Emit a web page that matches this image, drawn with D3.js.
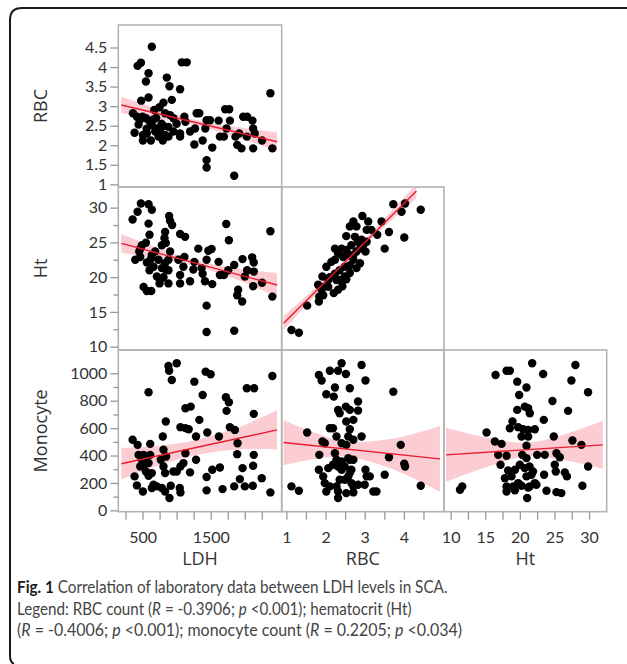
<!DOCTYPE html>
<html>
<head>
<meta charset="utf-8">
<script src="https://cdn.jsdelivr.net/npm/d3@7"></script>
<style>
body { margin: 0; background: #fff; }
svg { display: block; }
</style>
</head>
<body>
<div id="chart"></div>
<script>
// points, [x, y] per panel
var ldhRbc = [[636,4.52],[427,4.03],[476,4.11],[588,3.84],[549,3.63],[588,3.22],[480,3.14],[856,3.73],[895,3.51],[929,3.16],
    [807,3.09],[749,2.97],[671,2.90],[1051,3.43],[1075,4.12],[1148,4.12],[359,2.82],[417,2.73],[441,2.53],[383,2.32],
    [500,2.73],[549,2.69],[505,2.26],[563,2.30],[505,2.12],[622,2.12],[636,2.52],[661,2.66],[710,2.43],[758,2.39],
    [807,2.49],[797,2.12],[831,2.26],[880,2.47],[880,2.22],[953,2.69],[953,2.35],[1051,2.30],[1051,2.22],[1114,2.73],
    [1129,2.60],[1197,2.35],[1260,2.02],[1270,2.43],[1294,2.82],[1333,2.82],[1382,2.12],[1440,2.64],[1489,2.64],[1421,2.43],
    [1440,1.62],[1440,1.43],[1523,1.94],[1616,2.63],[1635,2.22],[1694,2.22],[1713,2.92],[1772,2.92],[1733,2.43],[1782,2.63],
    [1845,1.22],[1864,2.22],[1889,2.01],[1918,2.30],[1952,1.92],[1977,2.73],[2035,2.73],[2030,2.22],[2113,2.63],[2123,2.43],
    [2147,2.30],[2123,1.92],[2254,2.12],[2376,3.33],[2405,1.92],[831,2.82],[904,2.77],[685,2.35],[734,2.22],[600,2.62],
    [700,2.70],[780,2.55],[1000,2.55],[460,2.65],[560,2.42]];
var ldhHt = [[354,28.3],[427,29.4],[476,30.6],[588,30.5],[636,29.7],[588,27.7],[602,26.1],[549,24.96],[490,24.6],[466,24.1],
    [451,23.7],[393,22.5],[466,22.9],[563,22.1],[622,22.6],[636,23.2],[685,23.7],[602,21.0],[515,18.6],[563,18.0],
    [627,18.0],[734,22.5],[749,19.1],[807,19.98],[783,21.3],[831,22.0],[880,22.5],[880,21.0],[880,19.1],[831,26.5],
    [822,25.6],[890,28.8],[904,28.1],[934,27.5],[783,24.6],[841,24.9],[904,23.7],[1051,26.2],[1124,25.8],[1051,19.1],
    [1051,20.3],[1026,22.5],[1099,21.5],[1114,22.9],[1197,19.4],[1245,21.1],[1260,22.2],[1318,24.1],[1367,21.3],[1382,20.5],
    [1416,19.4],[1440,15.9],[1440,12.1],[1465,23.8],[1513,24.05],[1440,22.5],[1523,19.0],[1616,22.2],[1635,20.3],[1694,20.3],
    [1757,21.0],[1728,27.65],[1767,25.3],[1845,21.75],[1845,12.3],[1889,17.4],[1903,18.2],[1962,16.5],[1967,22.6],[2001,20.1],
    [2035,21.0],[2108,22.85],[2132,22.1],[2132,20.8],[2123,18.7],[2254,19.2],[2376,26.6],[2405,17.2],[710,20.1],[758,19.6],
    [661,21.5],[841,21.1]];
var ldhMono = [[354,515],[427,478],[612,485],[383,248],[417,182],[505,138],[588,862],[441,405],[515,405],[563,393],
    [612,405],[466,320],[524,333],[588,345],[490,369],[549,284],[588,252],[636,272],[661,187],[710,175],
    [636,163],[797,539],[841,648],[807,442],[846,393],[807,320],[768,369],[831,272],[783,163],[831,138],
    [895,90],[914,180],[880,1053],[1002,1073],[890,1019],[929,951],[953,284],[1002,284],[1046,163],[1056,131],
    [1056,320],[1100,345],[1129,417],[1056,607],[1129,745],[1207,757],[1129,600],[1177,592],[1197,277],[1260,939],
    [1285,539],[1333,660],[1285,369],[1382,842],[1426,1012],[1499,993],[1450,568],[1440,243],[1440,146],[1523,296],
    [1621,539],[1635,313],[1674,155],[1723,825],[1767,789],[1733,726],[1782,607],[1855,587],[1845,175],[1894,490],
    [1889,410],[1928,228],[1967,308],[2001,175],[2030,891],[2137,891],[2132,704],[2123,325],[2118,180],[2132,405],
    [2249,235],[2376,131],[2405,980]];
var rbcHt = [[1.13,12.4],[1.32,12.0],[1.53,15.9],[1.83,16.5],[1.84,17.2],[1.94,17.4],[1.81,18.9],[1.92,20.1],[1.94,18.6],[2.07,19.6],
    [2.21,17.7],[2.32,18.2],[2.53,19.7],[2.02,21.5],[2.15,22.2],[2.24,22.5],[2.36,21.0],[2.49,21.5],[2.62,21.7],[2.71,22.5],
    [2.41,24.1],[2.53,23.9],[2.66,24.6],[2.71,23.2],[2.79,23.7],[2.88,24.1],[2.96,24.6],[3.05,25.1],[3.02,23.7],[2.53,25.9],
    [2.62,27.3],[2.71,28.0],[2.79,27.3],[2.94,28.8],[3.09,28.0],[3.05,26.8],[3.17,26.8],[2.75,25.8],[2.83,25.1],[2.92,25.4],
    [2.24,20.5],[2.11,20.0],[2.28,19.6],[2.36,19.6],[2.49,20.1],[2.62,20.6],[2.43,18.7],[3.32,26.1],[3.43,28.0],[3.51,24.1],
    [3.62,26.5],[3.73,30.5],[3.94,29.4],[4.03,30.6],[4.01,25.7],[4.43,29.7],[2.79,21.3],[2.88,22.0],[2.24,24.1],[2.32,23.4],
    [2.45,22.9],[2.62,23.2],[2.07,18.6],[1.90,18.2]];
var rbcMono = [[1.13,175],[1.32,143],[1.53,568],[1.83,988],[1.90,947],[2.02,847],[2.21,830],[2.24,896],[2.11,1019],[2.32,1019],
    [2.41,1073],[2.52,995],[2.62,891],[2.92,1061],[3.02,947],[2.32,733],[2.36,709],[2.52,757],[2.62,733],[2.83,794],
    [2.83,728],[2.71,660],[2.11,599],[2.19,599],[2.28,539],[2.53,648],[2.62,592],[2.58,539],[1.92,502],[1.98,490],
    [2.24,417],[2.41,490],[2.53,478],[2.71,515],[2.92,539],[1.84,405],[2.28,369],[2.41,357],[2.58,381],[2.62,369],
    [2.71,369],[1.83,296],[1.94,248],[2.07,308],[2.19,333],[2.32,320],[2.41,296],[2.49,320],[2.66,296],[1.98,199],
    [2.11,175],[2.28,175],[2.36,223],[2.49,223],[2.58,248],[2.62,272],[2.66,199],[2.71,175],[2.02,138],[2.32,138],
    [2.32,90],[2.53,126],[2.71,131],[2.83,187],[3.05,248],[3.02,296],[3.13,248],[3.00,187],[3.22,138],[3.30,138],
    [3.51,260],[3.62,388],[3.73,866],[3.92,478],[4.01,340],[4.03,320],[4.43,180]];
var htMono = [[11.35,150],[11.68,175],[15.19,568],[16.49,988],[18.08,1019],[18.56,1019],[19.62,939],[20.96,896],[19.9,842],[21.78,1073],
    [23.37,995],[28.03,1061],[27.45,947],[29.86,862],[24.71,798],[26.97,726],[19.62,733],[20.72,757],[21.44,709],[21.2,745],
    [23.46,660],[18.94,648],[18.56,599],[19.76,607],[20.48,592],[21.2,587],[22.16,592],[20.24,539],[21.2,539],[24.9,539],
    [27.6,510],[28.9,478],[16.39,502],[17.36,485],[16.87,405],[18.08,398],[20.96,471],[20.34,405],[20.96,381],[22.5,405],
    [23.6,405],[25.29,417],[25.77,388],[17.21,333],[18.3,291],[19.3,296],[20.0,333],[20.7,308],[21.4,320],[21.9,284],
    [25.05,333],[25.19,284],[26.5,277],[26.8,248],[29.86,320],[17.84,235],[18.8,248],[19.76,199],[20.96,248],[21.68,260],
    [22.16,199],[23.5,260],[18.08,175],[19.04,175],[20.24,180],[21.44,175],[22.4,187],[18.08,138],[19.28,146],[21.2,167],
    [23.85,143],[21.06,90],[25.29,133],[26.0,126],[29.04,180]];

// fitted lines (two ends) and confidence bands [x, lo, hi]
var lineLdhRbc = [[188,3.03],[2474,2.09]];
var lineLdhHt = [[188,24.87],[2474,18.87]];
var lineLdhMono = [[188,340],[2474,587]];
var lineRbcHt = [[0.93,13.36],[4.32,32.4]];
var lineRbcMono = [[0.93,495],[4.92,376]];
var lineHtMono = [[9.33,405],[32.0,478]];
var bandLdhRbc = [[188,2.82,3.24],[750,2.68,2.92],[1300,2.50,2.64],[1900,2.20,2.46],[2474,1.85,2.33]];
var bandLdhHt = [[188,23.5,26.2],[750,22.6,24.1],[1300,21.5,22.4],[1900,19.6,21.2],[2474,17.2,20.6]];
var bandLdhMono = [[188,225,455],[750,331,471],[1300,405,515],[1900,445,605],[2474,444,730]];
var bandRbcHt = [[0.93,12.4,14.4],[1.7,17.1,18.25],[2.5,21.9,22.45],[3.4,26.7,27.8],[4.32,31.4,33.4]];
var bandRbcMono = [[0.93,330,660],[1.8,379,559],[2.5,393,503],[3.7,302,522],[4.92,136,616]];
var bandHtMono = [[9.33,208,602],[15,313,533],[21,393,493],[26.5,365,555],[32.0,303,653]];

var xVars = ["LDH", "RBC", "Ht"];
var yVars = ["RBC", "Ht", "Monocyte"];
var xDomains = [[144, 2542], [0.881, 5.024], [9.04, 32.55]];
var yDomains = [[0.932, 5.075], [9.52, 32.97], [-9.7, 1170]];
var xTicks = [[250,500,750,1000,1250,1500,1750,2000,2250], [1,1.5,2,2.5,3,3.5,4,4.5], [10,12.5,15,17.5,20,22.5,25,27.5,30]];
var xTickLabels = [[500,1500], [1,2,3,4], [10,15,20,25,30]];
var yTicks = [[1,1.5,2,2.5,3,3.5,4,4.5], [10,15,20,25,30], [0,200,400,600,800,1000]];
var yMinorTicks = [[], [12.5,17.5,22.5,27.5], [100,300,500,700,900]];

var panels = [
    {row: 0, col: 0, pts: ldhRbc, line: lineLdhRbc, band: bandLdhRbc},
    {row: 1, col: 0, pts: ldhHt, line: lineLdhHt, band: bandLdhHt},
    {row: 1, col: 1, pts: rbcHt, line: lineRbcHt, band: bandRbcHt},
    {row: 2, col: 0, pts: ldhMono, line: lineLdhMono, band: bandLdhMono},
    {row: 2, col: 1, pts: rbcMono, line: lineRbcMono, band: bandRbcMono},
    {row: 2, col: 2, pts: htMono, line: lineHtMono, band: bandHtMono}
];

var W = 627, H = 664;
var colEdges = [118.3, 281.7, 444, 606.7];
var rowEdges = [25, 187, 350, 511.7];
var titleFont = "Open Sans, Noto Sans, sans-serif";
var tickFont = "Lato, Open Sans, sans-serif";
var captionFont = "Lato, Open Sans, sans-serif";

var svg = d3.select("#chart").append("svg")
    .attr("width", W)
    .attr("height", H);

var xScales = xDomains.map((d, i) => d3.scaleLinear().domain(d).range([colEdges[i], colEdges[i+1]]));
var yScales = yDomains.map((d, i) => d3.scaleLinear().domain(d).range([rowEdges[i+1], rowEdges[i]]));

// outer frame (top and left edge only)
svg.append("path")
    .attr("d", "M14,664 Q10,662 10,656 L10,20 Q10,8 22,8 L627,8")
    .attr("fill", "none")
    .attr("stroke", "#1a1a1a")
    .attr("stroke-width", 2);

function drawPanel(p)
{
    var x = xScales[p.col], y = yScales[p.row];
    var x0 = colEdges[p.col], x1 = colEdges[p.col+1];
    var y0 = rowEdges[p.row], y1 = rowEdges[p.row+1];
    var id = "clip" + p.row + p.col;

    svg.append("clipPath").attr("id", id)
        .append("rect")
        .attr("x", x0).attr("y", y0)
        .attr("width", x1 - x0).attr("height", y1 - y0);

    var g = svg.append("g").attr("clip-path", "url(#" + id + ")");

    g.append("path")
        .datum(p.band)
        .attr("fill", "#fbcdd3")
        .attr("d", d3.area()
            .curve(d3.curveCatmullRom)
            .x(d => x(d[0]))
            .y0(d => y(d[1]))
            .y1(d => y(d[2])));

    g.selectAll("circle")
        .data(p.pts)
        .enter()
        .append("circle")
        .attr("cx", d => x(d[0]))
        .attr("cy", d => y(d[1]))
        .attr("r", 4.2)
        .attr("fill", "#000");

    g.append("path")
        .datum(p.line)
        .attr("fill", "none")
        .attr("stroke", "#ea1c2e")
        .attr("stroke-width", 1.4)
        .attr("d", d3.line().x(d => x(d[0])).y(d => y(d[1])));

    svg.append("rect")
        .attr("x", x0).attr("y", y0)
        .attr("width", x1 - x0).attr("height", y1 - y0)
        .attr("fill", "none")
        .attr("stroke", "#b3b3b3")
        .attr("stroke-width", 1.6);
}

function styleAxis(g)
{
    g.select(".domain").remove();
    g.selectAll(".tick line").attr("stroke", "#9a9a9a").attr("stroke-width", 1.3);
    g.selectAll(".tick text")
        .attr("fill", "#333")
        .style("font-family", tickFont)
        .style("font-size", "16px");
}

function drawAxes()
{
    yScales.forEach(function(s, i) {
        svg.append("g")
            .attr("transform", "translate(" + colEdges[0] + ",0)")
            .call(d3.axisLeft(s).tickValues(yTicks[i]).tickSize(8).tickPadding(3).tickFormat(d3.format("")))
            .call(styleAxis);
        svg.append("g")
            .attr("transform", "translate(" + colEdges[0] + ",0)")
            .call(d3.axisLeft(s).tickValues(yMinorTicks[i]).tickSize(5).tickFormat(""))
            .call(styleAxis);

        svg.append("text")
            .attr("transform", "translate(47," + ((rowEdges[i] + rowEdges[i+1]) / 2) + ") rotate(-90)")
            .attr("text-anchor", "middle")
            .attr("fill", "#333")
            .style("font-family", titleFont)
            .style("font-size", "18px")
            .text(yVars[i]);
    });

    xScales.forEach(function(s, i) {
        svg.append("g")
            .attr("transform", "translate(0," + rowEdges[3] + ")")
            .call(d3.axisBottom(s).tickValues(xTicks[i]).tickSize(8).tickPadding(12)
                .tickFormat(d => xTickLabels[i].indexOf(d) >= 0 ? d3.format("")(d) : ""))
            .call(styleAxis);

        svg.append("text")
            .attr("x", (colEdges[i] + colEdges[i+1]) / 2)
            .attr("y", 565)
            .attr("text-anchor", "middle")
            .attr("fill", "#333")
            .style("font-family", titleFont)
            .style("font-size", "18px")
            .text(xVars[i]);
    });
}

// caption lines: [text, italic?, bold?] pieces
var captionLines = [
    [["Fig. 1", 0, 1], [" Correlation of laboratory data between LDH levels in SCA.", 0, 0]],
    [["Legend: RBC count (", 0, 0], ["R", 1, 0], [" = -0.3906; ", 0, 0], ["p", 1, 0], [" <0.001); hematocrit (Ht)", 0, 0]],
    [["(", 0, 0], ["R", 1, 0], [" = -0.4006; ", 0, 0], ["p", 1, 0], [" <0.001); monocyte count (", 0, 0],
        ["R", 1, 0], [" = 0.2205; ", 0, 0], ["p", 1, 0], [" <0.034)", 0, 0]]
];
var captionWidths = [431, 395, 445];
var captionBaselines = [593, 614.5, 636];

function drawCaption()
{
    captionLines.forEach(function(parts, i) {
        var g = svg.append("g");
        var t = g.append("text")
            .attr("fill", "#444")
            .style("font-family", captionFont)
            .style("font-size", "17.5px");
        t.selectAll("tspan")
            .data(parts)
            .enter()
            .append("tspan")
            .style("font-style", d => d[1] ? "italic" : "normal")
            .style("font-weight", d => d[2] ? "bold" : "normal")
            .attr("fill", d => d[2] ? "#1a1a1a" : null)
            .text(d => d[0]);
        // squeeze the line horizontally to the caption's width
        var sx = captionWidths[i] / t.node().getComputedTextLength();
        g.attr("transform", "translate(17," + captionBaselines[i] + ") scale(" + sx + ",1)");
    });
}

panels.forEach(drawPanel);
drawAxes();
drawCaption();
</script>
</body>
</html>
